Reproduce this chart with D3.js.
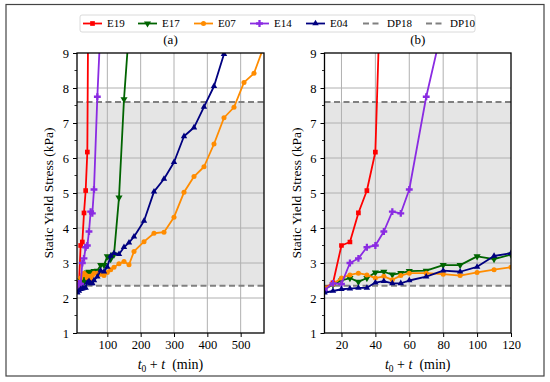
<!DOCTYPE html>
<html><head><meta charset="utf-8">
<script src="https://cdn.jsdelivr.net/npm/d3@7"></script>
<style>body{margin:0;background:#fff}svg{display:block}</style>
</head><body>
<svg id="c" width="550" height="382"></svg>
<script>
// ---- data ----
const seriesNames = ["E19","E17","E07","E14","E04"];
const tE19 = [10,15,20,25,30,35,40,45];
const vE19 = [2.28,2.43,3.5,3.6,4.43,5.07,6.17,14];
const tE17 = [10,15,20,25,30,35,40,45,50,55,60,70,80,90,100,110,120,135,150,165];
const vE17 = [2.26,2.38,2.5,2.57,2.46,2.57,2.73,2.75,2.67,2.71,2.77,2.78,2.94,2.94,3.19,3.11,3.24,4.87,7.68,9.66];
const tE07 = [10,15,20,25,30,35,40,45,50,55,60,70,80,90,100,110,120,135,150,165,180,210,240,270,300,330,360,390,420,450,480,510,540,570];
const vE07 = [2.28,2.4,2.57,2.66,2.71,2.66,2.57,2.62,2.52,2.64,2.71,2.71,2.68,2.64,2.73,2.81,2.88,2.98,3.04,2.95,3.33,3.61,3.85,3.88,4.31,5.02,5.47,5.75,6.4,7.15,7.45,8.16,8.42,9.2];
const tE14 = [10,15,20,25,30,35,40,45,50,55,60,70,80];
const vE14 = [2.22,2.42,2.4,3.0,3.13,3.45,3.5,3.9,4.47,4.42,5.1,7.75,9.85];
const tE04 = [10,15,20,25,30,35,40,45,50,55,60,70,80,90,100,110,120,135,150,165,180,210,240,270,300,330,360,390,420,450];
const vE04 = [2.15,2.2,2.25,2.27,2.29,2.29,2.44,2.48,2.42,2.42,2.5,2.61,2.78,2.75,2.89,3.2,3.28,3.25,3.45,3.58,3.75,4.2,5.04,5.4,5.88,6.62,6.87,7.46,8.05,8.97];
const dp18 = 7.6, dp10 = 2.35;
const yTicks = [1,2,3,4,5,6,7,8,9];
const xTicksA = [100,200,300,400,500];
const xTicksB = [20,40,60,80,100,120];
const panelTitles = ["(a)","(b)"];

const times = [tE19,tE17,tE07,tE14,tE04];
const values = [vE19,vE17,vE07,vE14,vE04];
const colors = ["#ff0000","#006400","#ff8c00","#8a2be2","#000080"];
const symbols = [d3.symbolSquare,d3.symbolTriangle,d3.symbolCircle,d3.symbolCross,d3.symbolTriangle];
const symRot = [0,180,0,0,0];
const symSize = [22,22,20,26,18];
const FONT = '"Liberation Serif"';

const svg = d3.select("#c");

svg.append("rect").attr("x",6).attr("y",4.5).attr("width",538).attr("height",371.5)
  .attr("fill","none").attr("stroke","#444").attr("stroke-width",1.2);

function panel(idx, left, right, xDomain, xTicks){
  const top = 53, bottom = 333;
  const x = d3.scaleLinear().domain(xDomain).range([left,right]);
  const y = d3.scaleLinear().domain([1,9]).range([bottom,top]);
  const g = svg.append("g");
  const clipId = "clip"+idx;
  svg.append("clipPath").attr("id",clipId).append("rect")
    .attr("x",left).attr("y",top).attr("width",right-left).attr("height",bottom-top);
  g.append("rect").attr("x",left).attr("width",right-left)
    .attr("y",y(dp18)).attr("height",y(dp10)-y(dp18)).attr("fill","#e5e5e5");
  g.selectAll(".gx").data(xTicks.filter(t=>t<xDomain[1])).join("line")
    .attr("x1",d=>x(d)).attr("x2",d=>x(d)).attr("y1",top).attr("y2",bottom)
    .attr("stroke","#b0b0b0").attr("stroke-width",1);
  g.selectAll(".gy").data(yTicks.slice(1,-1)).join("line")
    .attr("x1",left).attr("x2",right).attr("y1",d=>y(d)).attr("y2",d=>y(d))
    .attr("stroke","#b0b0b0").attr("stroke-width",1);
  [dp18,dp10].forEach(v=>{
    g.append("line").attr("x1",left).attr("x2",right).attr("y1",y(v)).attr("y2",y(v))
      .attr("stroke","#808080").attr("stroke-width",2).attr("stroke-dasharray","6,3.5");
  });
  const sg = g.append("g").attr("clip-path",`url(#${clipId})`);
  const line = d3.line().x(d=>x(d[0])).y(d=>y(d[1]));
  seriesNames.forEach((name,i)=>{
    const pts = times[i].map((t,j)=>[t,values[i][j]]);
    sg.append("path").datum(pts).attr("d",line).attr("fill","none")
      .attr("stroke",colors[i]).attr("stroke-width",1.8).attr("stroke-linejoin","round");
    const sym = d3.symbol().type(symbols[i]).size(symSize[i]);
    sg.selectAll(null).data(pts).join("path").attr("d",sym)
      .attr("transform",d=>`translate(${x(d[0])},${y(d[1])}) rotate(${symRot[i]})`)
      .attr("fill",colors[i]);
  });
  const ax = d3.axisBottom(x).tickValues(xTicks).tickSize(4).tickFormat(d3.format("d"));
  const gx = g.append("g").attr("transform",`translate(0,${bottom})`).call(ax);
  const ay = d3.axisLeft(y).tickValues(yTicks).tickSize(4).tickFormat(d3.format("d"));
  const gy = g.append("g").attr("transform",`translate(${left},0)`).call(ay);
  g.selectAll(".my").data(yTicks.slice(0,-1).map(v=>v+0.5)).join("line")
    .attr("x1",left-2.5).attr("x2",left).attr("y1",d=>y(d)).attr("y2",d=>y(d))
    .attr("stroke","#000").attr("stroke-width",0.8);
  [gx,gy].forEach(a=>{
    a.select(".domain").remove();
    a.attr("font-family",null);
    a.selectAll("text").style("font-family",FONT).style("font-size","12.5px").attr("fill","#000");
    a.selectAll("line").attr("stroke","#000");
  });
  gy.selectAll("text").attr("dx",-1);
  g.append("rect").attr("x",left).attr("y",top).attr("width",right-left).attr("height",bottom-top)
    .attr("fill","none").attr("stroke","#000").attr("stroke-width",1.3);
  g.append("text").attr("x",(left+right)/2).attr("y",44).attr("text-anchor","middle")
    .style("font-family",FONT).style("font-size","13px").text(panelTitles[idx]);
  g.append("text").attr("transform",`translate(${left-24},${(top+bottom)/2}) rotate(-90)`)
    .attr("text-anchor","middle").style("font-family",FONT).style("font-size","13.5px")
    .text("Static Yield Stress (kPa)");
  const xl = g.append("text").attr("x",(left+right)/2).attr("y",369).attr("text-anchor","middle")
    .style("font-family",FONT).style("font-size","14px");
  xl.append("tspan").style("font-style","italic").text("t");
  xl.append("tspan").style("font-size","9.5px").attr("dy",3).text("0");
  xl.append("tspan").attr("dy",-3).text(" + ");
  xl.append("tspan").style("font-style","italic").text("t");
  xl.append("tspan").text("\u2002(min)");
}
panel(0, 77, 264, [9,570], xTicksA);
panel(1, 324.5, 511, [10,120], xTicksB);

const lg = svg.append("g");
lg.append("rect").attr("x",80).attr("y",15).attr("width",395).attr("height",17).attr("rx",2)
  .attr("fill","#fff").attr("stroke","#d0d0d0").attr("stroke-width",0.8);
const legNames = seriesNames.concat(["DP18","DP10"]);
const legX = [83,138,194,250,306,363,426];
legNames.forEach((n,i)=>{
  const x0 = legX[i], yc = 23.5;
  if(i<5){
    lg.append("line").attr("x1",x0).attr("x2",x0+19).attr("y1",yc).attr("y2",yc)
      .attr("stroke",colors[i]).attr("stroke-width",1.8);
    lg.append("path").attr("d",d3.symbol().type(symbols[i]).size(symSize[i])())
      .attr("transform",`translate(${x0+9.5},${yc}) rotate(${symRot[i]})`).attr("fill",colors[i]);
  } else {
    lg.append("line").attr("x1",x0).attr("x2",x0+19).attr("y1",yc).attr("y2",yc)
      .attr("stroke","#808080").attr("stroke-width",2).attr("stroke-dasharray","6,3.5");
  }
  lg.append("text").attr("x",x0+24).attr("y",yc+3.5).style("font-family",FONT)
    .style("font-size","11px").text(n);
});
</script>
</body></html>
